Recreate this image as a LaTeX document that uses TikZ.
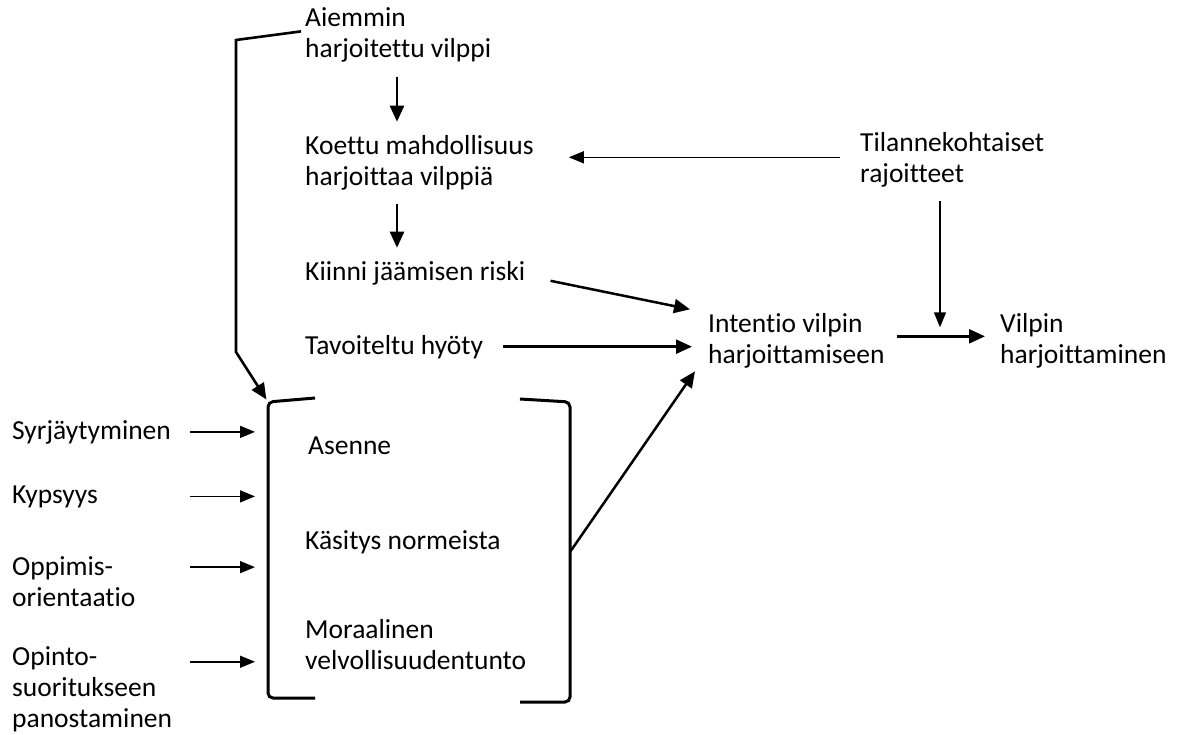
\documentclass[tikz,border=0pt]{standalone}
\usepackage{fontspec}
\setmainfont{Carlito}[Ligatures=NoCommon]
\usetikzlibrary{arrows.meta,calc}

\tikzset{
  lbl/.style={anchor=base west, align=left, inner sep=0pt, font=\fontsize{27.5}{31}\selectfont},
  arr/.style={line width=2.5pt, -{Triangle[length=16pt,width=14pt]}},
  thinarr/.style={line width=1.5pt, -{Triangle[length=15pt,width=12pt]}},
  brak/.style={line width=3pt, rounded corners=5pt},
}

\begin{document}
\begin{tikzpicture}[x=1pt, y=-1pt]
  \useasboundingbox (0,0) rectangle (1178,735);

  % upper chain (base = last line)
  \node[lbl] (aiemmin) at (305,58) {Aiemmin\\harjoitettu vilppi};
  \node[lbl] (koettu) at (305,186) {Koettu mahdollisuus\\harjoittaa vilppiä};
  \node[lbl] (kiinni) at (305,281) {Kiinni jäämisen riski};
  \node[lbl] (tavoite) at (305,354) {Tavoiteltu hyöty};
  \node[lbl] (tilanne) at (860,183) {Tilannekohtaiset\\rajoitteet};
  \node[lbl] (intentio) at (708,363) {Intentio vilpin\\harjoittamiseen};
  \node[lbl] (vilppi) at (1000,363) {Vilpin\\harjoittaminen};

  % inside the bracket
  \node[lbl] (asenne) at (308,454) {Asenne};
  \node[lbl] (normit) at (305,549) {Käsitys normeista};
  \node[lbl] (moraali) at (305,669) {Moraalinen\\velvollisuudentunto};

  % left column
  \node[lbl] (syrj) at (12,439) {Syrjäytyminen};
  \node[lbl] (kypsyys) at (12,503) {Kypsyys};
  \node[lbl] (oppimis) at (12,606) {Oppimis-\\orientaatio};
  \node[lbl] (opinto) at (12,727) {Opinto-\\suoritukseen\\panostaminen};

  % brackets
  \coordinate (ltop) at (268,402);
  \coordinate (lbot) at (268,698);
  \coordinate (rtop) at (570,402);
  \coordinate (rbot) at (570,702);
  \coordinate (rmid) at ($(rtop)!0.5!(rbot)$);
  \coordinate (meet) at (940,0);
  \coordinate (tails) at (190,0);

  \draw[brak] (315,398) -- (ltop) -- (lbot) -- (315,698);
  \draw[brak] (520,399) -- (rtop) -- (rbot) -- (520,702);

  \draw[line width=2.6pt, -{Triangle[length=16pt,width=14pt]}, shorten >=3pt]
    ([xshift=-4pt,yshift=4pt]aiemmin.west) -- (236,40) -- (236,352) -- (ltop);

  \draw[arr] ([xshift=92pt,yshift=-14pt]aiemmin.south west) -- ([xshift=92pt,yshift=14pt]koettu.north west);
  \draw[arr] ([xshift=92pt,yshift=-13pt]koettu.south west) -- ([xshift=92pt,yshift=14pt]kiinni.north west);
  \draw[thinarr] ([xshift=-20pt,yshift=3pt]tilanne.west) -- ([xshift=35pt,yshift=3pt]koettu.east |- tilanne.west);
  \draw[arr] ([xshift=25pt,yshift=-7pt]kiinni.east) -- ([xshift=-18pt,yshift=31pt]intentio.west);
  \draw[arr] ([xshift=20pt]tavoite.east) -- ([xshift=-16pt]intentio.west |- tavoite.east);
  \draw[arr] (rmid) -- ([xshift=-13pt,yshift=-31pt]intentio.west);
  \draw[arr] ([xshift=12pt,yshift=4pt]intentio.east) -- ([xshift=-15pt,yshift=4pt]vilppi.west |- intentio.east);
  \draw[thinarr] ([yshift=-13pt]tilanne.south -| meet) -- ([yshift=13pt]intentio.east -| meet);

  % left arrows
  \draw[thinarr] (syrj.east -| tails) -- ([xshift=-13pt]syrj.east -| ltop);
  \draw[thinarr] (kypsyys.east -| tails) -- ([xshift=-13pt]kypsyys.east -| ltop);
  \draw[thinarr] ([yshift=14pt]oppimis.east -| tails) -- ([xshift=-13pt,yshift=14pt]oppimis.east -| ltop);
  \draw[thinarr] ([yshift=27pt]opinto.east -| tails) -- ([xshift=-13pt,yshift=27pt]opinto.east -| ltop);
\end{tikzpicture}
\end{document}
